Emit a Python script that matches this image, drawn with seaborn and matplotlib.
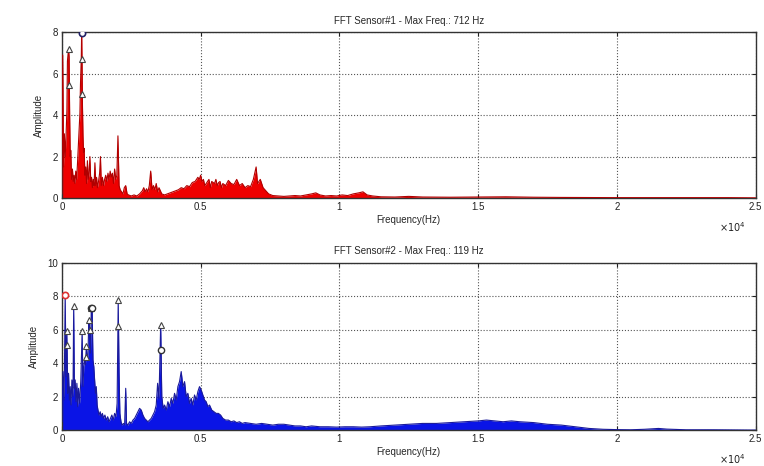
import matplotlib
matplotlib.use("Agg")
import matplotlib.pyplot as plt
import numpy as np
import pandas as pd
import seaborn as sns
from matplotlib.ticker import FuncFormatter

# ---------------- DATA ----------------
freq1 = [0, 30, 60, 90, 120, 150, 180, 200, 220, 240, 260, 280, 300, 320, 350, 380,
         410, 440, 470, 500, 530, 560, 590, 620, 650, 670, 690, 700, 712, 725, 740,
         760, 780, 800, 830,
         860, 890, 920, 950, 980, 1010, 1040, 1070, 1100, 1130, 1160, 1190, 1220,
         1250, 1280, 1320, 1360, 1390, 1420, 1460, 1500, 1540, 1580, 1620, 1660,
         1700, 1740, 1780, 1820, 1860, 1900, 1940, 1980, 2020, 2060, 2100, 2150,
         2200, 2250, 2300, 2350, 2400, 2500, 2600, 2700, 2800, 2900, 2950, 3000,
         3050, 3100, 3150, 3200, 3250, 3300, 3350, 3400, 3450, 3500, 3600, 3700,
         3800, 3900, 4000, 4100, 4200, 4300, 4400, 4500, 4600, 4700, 4800, 4900,
         4950, 5000, 5050, 5100, 5150, 5200, 5300, 5350, 5400, 5500, 5550, 5600,
         5650, 5700, 5750, 5800, 5900, 6000, 6100, 6200, 6300, 6400, 6500, 6600,
         6700, 6800, 6900, 7000, 7050, 7150, 7250, 7350, 7450, 7600, 7800, 8000,
         8200, 8400, 8600, 8800, 9000, 9150, 9300, 9500, 9700, 9900, 10100, 10300,
         10500, 10700, 10850, 11000, 11200, 11500, 12000, 12500, 13000, 14000,
         15000, 16000, 17000, 18000, 20000, 22000, 24000, 25000]
amp1 = [0.2, 6.9, 1.5, 3.1, 2.0, 3.0, 4.2, 6.6, 6.9, 7.2, 6.8, 4.0, 2.0, 2.3, 0.9, 1.4,
        0.8, 1.1, 0.7, 1.3, 0.9, 1.6, 2.4, 3.2, 4.1, 5.5, 6.4, 6.8, 8.0, 6.7, 4.6,
        3.0, 2.2, 2.4, 1.1,
        1.5, 0.7, 1.8, 0.9, 1.2, 2.0, 0.8, 1.0, 0.5, 0.9, 0.6, 1.7, 0.6,
        1.0, 0.5, 0.8, 1.2, 2.0, 0.6, 1.0, 0.6, 0.9, 1.1, 0.8, 1.2,
        0.9, 1.3, 1.0, 1.2, 0.7, 1.4, 0.9, 1.1, 3.0, 0.6, 0.4, 0.3,
        0.2, 0.5, 0.6, 0.2, 0.15, 0.1, 0.15, 0.1, 0.2, 0.35, 0.5, 0.3,
        0.45, 0.3, 0.6, 1.3, 0.4, 0.6, 0.4, 0.7, 0.3, 0.5, 0.2, 0.15,
        0.2, 0.25, 0.3, 0.35, 0.4, 0.5, 0.45, 0.6, 0.55, 0.75, 0.8, 1.0,
        0.9, 1.1, 0.8, 0.9, 0.6, 0.7, 0.9, 0.5, 0.8, 0.7, 0.9, 0.6,
        0.75, 0.8, 0.5, 0.7, 0.6, 0.85, 0.7, 0.65, 0.9, 0.6, 0.7, 0.5,
        0.6, 0.55, 0.9, 1.5, 0.7, 0.9, 0.5, 0.35, 0.2, 0.12, 0.1, 0.08,
        0.1, 0.12, 0.1, 0.15, 0.2, 0.25, 0.15, 0.1, 0.12, 0.1, 0.15, 0.12,
        0.2, 0.25, 0.3, 0.15, 0.1, 0.06, 0.05, 0.08, 0.05, 0.04,
        0.05, 0.06, 0.04, 0.03, 0.02, 0.02, 0.02, 0.01]

freq2 = [0, 40, 80, 119, 150, 180, 210, 240, 270, 300, 330, 360, 400, 425, 450, 480,
         510, 540, 570, 600, 640, 680, 730, 760, 790, 820, 850, 880, 910, 940, 970,
         1000, 1030, 1060, 1090, 1120, 1150, 1180, 1210, 1240, 1270, 1300, 1340,
         1380, 1420, 1460, 1500, 1550, 1600, 1650, 1700, 1750, 1800, 1850, 1900,
         1950, 1990, 2030, 2060, 2090, 2130, 2170, 2220, 2260, 2300, 2330, 2380,
         2440, 2500, 2560, 2620, 2680, 2740, 2800, 2860, 2920, 2980, 3040, 3100,
         3160, 3220, 3280, 3340, 3400, 3450, 3500, 3560, 3600, 3650, 3700, 3760,
         3820, 3880, 3940, 4000, 4060, 4120, 4180, 4240, 4300, 4360, 4420, 4480,
         4540, 4600, 4660, 4720, 4780, 4840, 4900, 4960, 5020, 5080, 5140, 5200,
         5260, 5320, 5400, 5480, 5560, 5640, 5720, 5800, 5900, 6000, 6100, 6200,
         6300, 6400, 6500, 6600, 6800, 7000, 7200, 7400, 7600, 7800, 8000, 8200,
         8400, 8600, 8800, 9000, 9300, 9600, 9900, 10200, 10500, 10800, 11100,
         11500, 12000, 12500, 13000, 13500, 14000, 14500, 15000, 15300, 15600,
         15900, 16200, 16500, 17000, 17500, 18000, 18500, 19000, 19500, 20000,
         20500, 21000, 21500, 21800, 22500, 23500, 24200, 25000]
amp2 = [0.5, 3.5, 1.8, 8.1, 3.2, 5.9, 2.2, 3.4, 1.8, 2.6, 1.5, 3.0, 2.0, 7.4, 2.5, 3.0,
        1.7, 2.8, 1.4, 2.5, 1.6, 2.9, 5.9, 2.6, 3.8, 4.3, 3.9, 5.0, 4.2, 4.5, 6.6,
        6.0, 4.6, 7.3, 7.3, 4.2, 3.8, 3.0, 2.2, 2.6, 1.5, 1.2, 0.9,
        1.1, 0.8, 1.0, 0.7, 0.9, 0.6, 0.8, 0.5, 0.7, 0.9, 0.6, 1.0,
        0.8, 1.6, 7.8, 3.4, 1.0, 0.5, 0.3, 0.4, 0.3, 2.5, 0.4, 0.3,
        0.5, 0.4, 0.6, 0.7, 0.9, 1.1, 1.3, 1.2, 0.9, 0.7, 0.6, 0.5,
        0.6, 0.7, 0.9, 1.1, 1.5, 2.8, 1.9, 6.3, 2.0, 1.3, 1.5, 1.2,
        1.7, 1.4, 1.9, 1.6, 2.2, 1.8, 2.6, 2.9, 3.5, 2.6, 2.9, 2.0,
        2.2, 1.6, 1.9, 1.5, 2.1, 1.8, 2.3, 2.6, 2.4, 2.1, 1.8, 1.7,
        1.4, 1.5, 1.2, 1.1, 1.0, 1.0, 0.9, 0.7, 0.6, 0.6, 0.5, 0.55,
        0.45, 0.5, 0.4, 0.45, 0.4, 0.35, 0.4, 0.35, 0.3, 0.35, 0.35, 0.3,
        0.25, 0.25, 0.2, 0.25, 0.2, 0.2, 0.18, 0.2, 0.2, 0.18, 0.2,
        0.25, 0.3, 0.35, 0.4, 0.4, 0.45, 0.5, 0.55, 0.6, 0.55,
        0.5, 0.55, 0.5, 0.45, 0.35, 0.3, 0.2, 0.1, 0.05, 0.03,
        0.02, 0.05, 0.1, 0.06, 0.02, 0.02, 0.01, 0.0]

# peak markers
tri1_x = [240, 240, 712, 712]
tri1_y = [7.2, 5.45, 6.7, 5.0]
circ1_x = [712]
circ1_y = [7.95]

tri2_x = [180, 180, 425, 730, 880, 880, 970, 1000, 1060, 2030, 2030, 3560]
tri2_y = [5.9, 5.1, 7.4, 5.9, 5.0, 4.4, 6.6, 6.0, 7.3, 7.8, 6.2, 6.3]
circ2_x = [1060, 1090, 3560]
circ2_y = [7.3, 7.3, 4.8]
max2_x = [119]
max2_y = [8.1]

titles = ["FFT Sensor#1 - Max Freq.: 712 Hz", "FFT Sensor#2 - Max Freq.: 119 Hz"]


def style_axes(ax, ymax, yticks):
    ax.set_xlim(0, 25000)
    ax.set_ylim(0, ymax)
    ax.set_xticks([0, 5000, 10000, 15000, 20000, 25000])
    ax.set_yticks(yticks)
    ax.xaxis.set_major_formatter(FuncFormatter(lambda v, p: f"{v / 1e4:g}"))
    ax.grid(True, linestyle=":", color="#555555", linewidth=0.8)
    ax.tick_params(direction="in", top=True, right=True, labelsize=7,
                   length=3, colors="#222222", pad=3)
    for s in ax.spines.values():
        s.set_color("#333333")
        s.set_linewidth(1.0)
        s.set_visible(True)
    ax.set_xlabel("Frequency(Hz)", fontsize=7, labelpad=2)
    ax.set_ylabel("Amplitude", fontsize=7, labelpad=6)
    ax.text(0.967, -0.175, r"$\times10^{4}$", transform=ax.transAxes,
            fontsize=7, ha="center", va="center", color="#222222")


def main():
    sns.set_style("ticks")
    plt.rcParams["font.family"] = ["Liberation Sans", "DejaVu Sans"]

    fig = plt.figure(figsize=(7.64, 4.66), dpi=100)
    ax1 = fig.add_axes([0.081, 0.575, 0.908, 0.356])
    ax2 = fig.add_axes([0.081, 0.077, 0.908, 0.359])

    df1 = pd.DataFrame({"freq": freq1, "amp": amp1})
    df2 = pd.DataFrame({"freq": freq2, "amp": amp2})

    # Sensor 1 (red)
    ax1.fill_between(df1["freq"], df1["amp"], color="#ee0000", linewidth=0, zorder=2)
    sns.lineplot(data=df1, x="freq", y="amp", ax=ax1, color="#b00000",
                 linewidth=0.8, estimator=None, zorder=3)
    ax1.plot(tri1_x, tri1_y, "^", ms=4, mfc="white", mec="#444444", mew=0.8, zorder=4)
    ax1.plot(circ1_x, circ1_y, "o", ms=4.5, mfc="white", mec="#222266", mew=1.2, zorder=4)
    style_axes(ax1, 8, [0, 2, 4, 6, 8])
    ax1.set_title(titles[0], fontsize=7, pad=6)

    # Sensor 2 (blue)
    ax2.fill_between(df2["freq"], df2["amp"], color="#0a14e6", linewidth=0, zorder=2)
    sns.lineplot(data=df2, x="freq", y="amp", ax=ax2, color="#1a1a9a",
                 linewidth=0.8, estimator=None, zorder=3)
    ax2.plot(tri2_x, tri2_y, "^", ms=4, mfc="white", mec="#444444", mew=0.8, zorder=4)
    ax2.plot(circ2_x, circ2_y, "o", ms=4.5, mfc="white", mec="#333333", mew=1.0, zorder=4)
    ax2.plot(max2_x, max2_y, "o", ms=4.5, mfc="white", mec="#dd3333", mew=1.2, zorder=4)
    style_axes(ax2, 10, [0, 2, 4, 6, 8, 10])
    ax2.set_title(titles[1], fontsize=7, pad=6)

    fig.savefig("out.png", dpi=100)


if __name__ == "__main__":
    main()
